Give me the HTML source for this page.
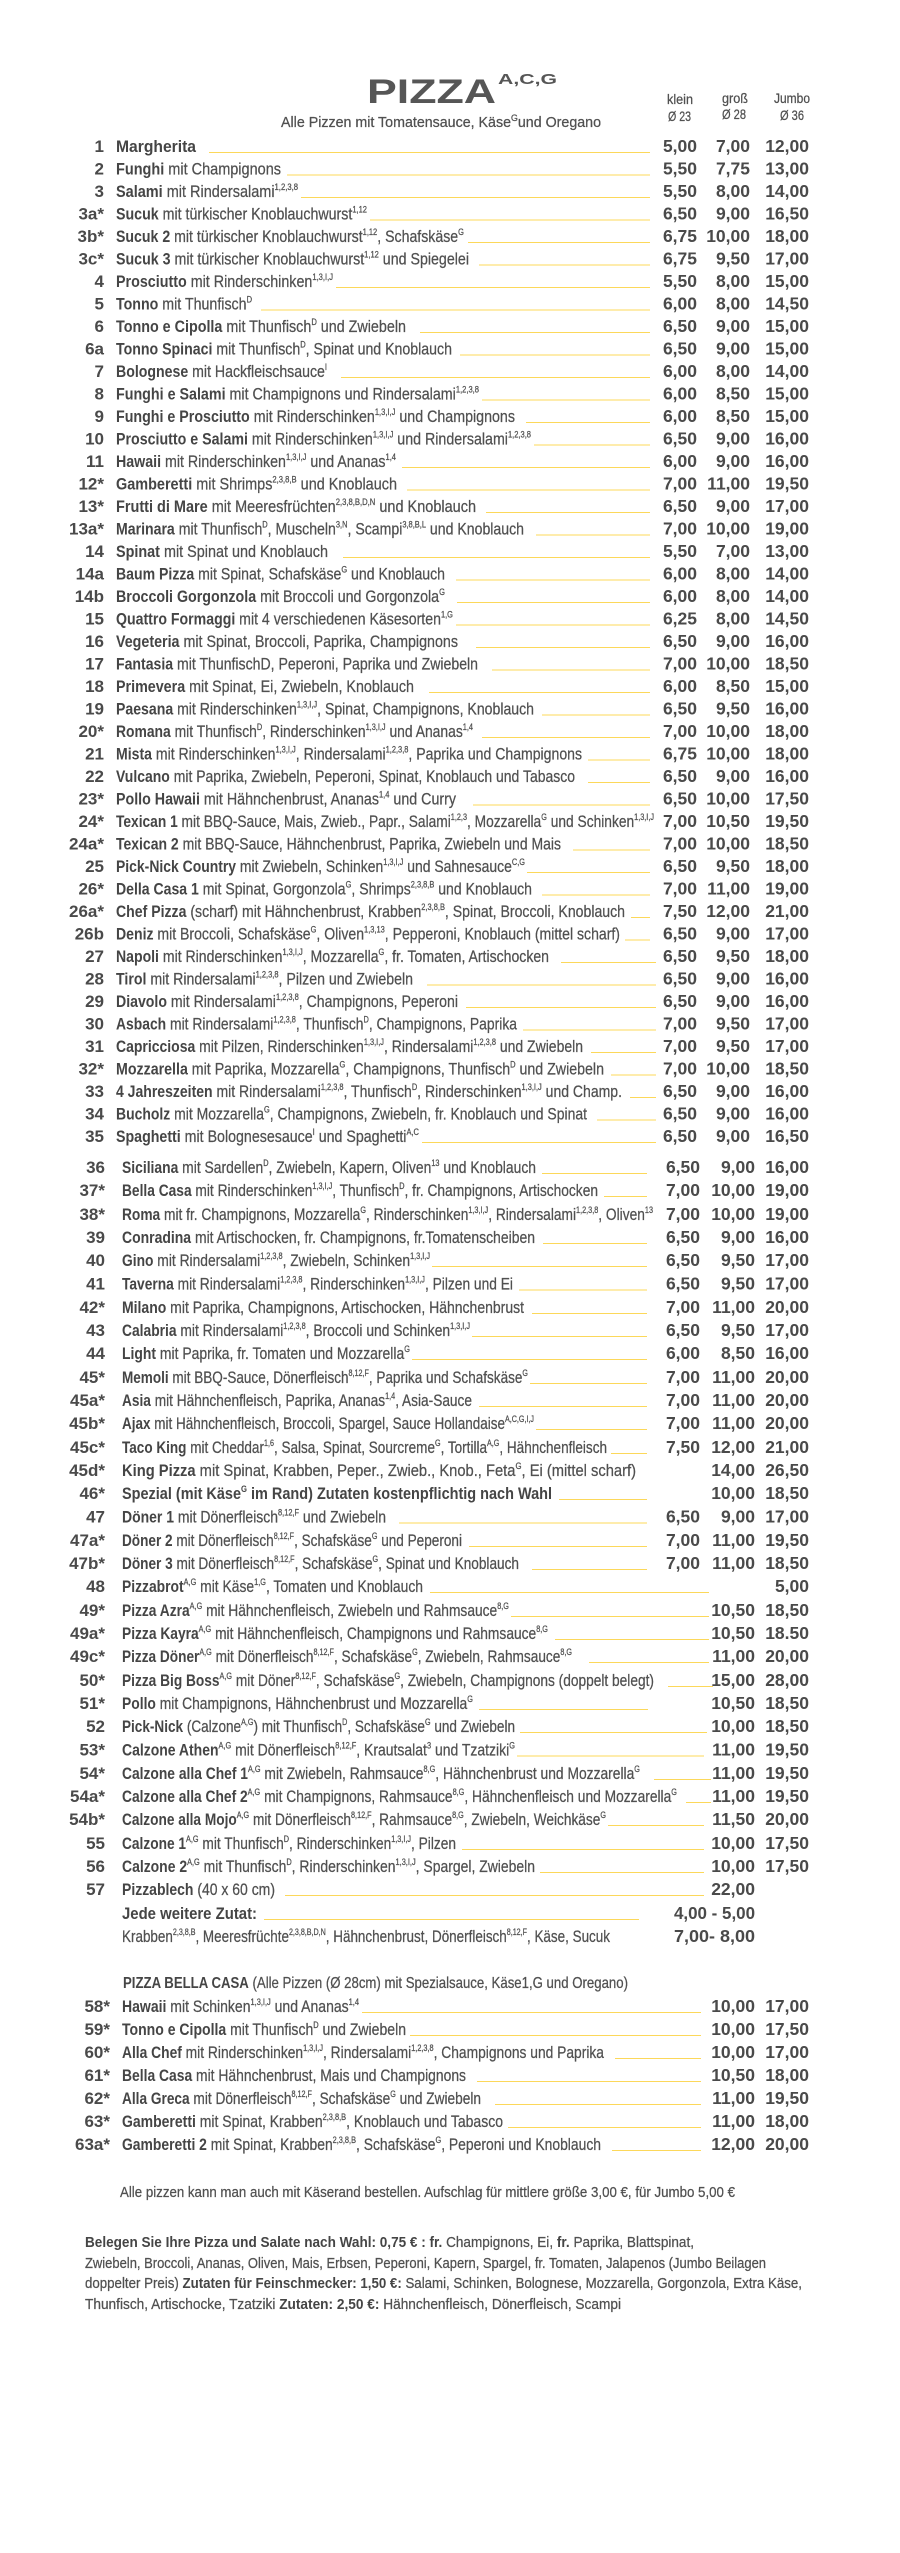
<!DOCTYPE html>
<html><head><meta charset="utf-8"><style>
html,body{margin:0;padding:0;background:#fff}
svg{display:block}
text{font-family:"Liberation Sans",sans-serif;fill:#505050}
.d,.f,.h{stroke:#505050;stroke-width:0.25px}
.b{font-weight:bold;fill:#454545;stroke:none}
.n{font-size:17px;font-weight:bold;text-anchor:end;fill:#4a4a4a}
.d{font-size:17px}
.s{font-size:9px}
.p{font-size:17.5px;font-weight:bold;text-anchor:end;fill:#4a4a4a}
.h{font-size:14px}
.f{font-size:15px}
line{stroke:#fcd85a;stroke-width:1}
</style></head><body>
<svg width="900" height="2553" viewBox="0 0 900 2553" xmlns="http://www.w3.org/2000/svg">
<rect width="900" height="2553" fill="#fff"/>
<!-- Header -->
<text x="367" y="103" style="font-size:34px;font-weight:bold;fill:#565656" textLength="129" lengthAdjust="spacingAndGlyphs">PIZZA</text>
<text x="498" y="84" style="font-size:15px;font-weight:bold;fill:#565656" textLength="59" lengthAdjust="spacingAndGlyphs">A,C,G</text>
<text x="281" y="127" class="d" style="font-size:14.5px" textLength="320" lengthAdjust="spacingAndGlyphs">Alle Pizzen mit Tomatensauce, Käse<tspan class="s" dy="-6">G</tspan><tspan dy="6">und Oregano</tspan></text>
<text x="667" y="104" class="h" textLength="26" lengthAdjust="spacingAndGlyphs">klein</text>
<text x="668" y="121" class="h" textLength="23" lengthAdjust="spacingAndGlyphs">Ø 23</text>
<text x="722" y="103" class="h" textLength="26" lengthAdjust="spacingAndGlyphs">groß</text>
<text x="722" y="119" class="h" textLength="24" lengthAdjust="spacingAndGlyphs">Ø 28</text>
<text x="774" y="103" class="h" textLength="36" lengthAdjust="spacingAndGlyphs">Jumbo</text>
<text x="780" y="120" class="h" textLength="24" lengthAdjust="spacingAndGlyphs">Ø 36</text>

<!-- Section 1 -->
<text x="104" y="152" class="n">1</text><text x="116" y="152" class="d" textLength="80" lengthAdjust="spacingAndGlyphs"><tspan class="b">Margherita</tspan></text><line x1="209" x2="650" y1="152.5" y2="152.5"/><text x="697" y="152" class="p">5,00</text><text x="750" y="152" class="p">7,00</text><text x="809" y="152" class="p">12,00</text>

<text x="104" y="174.5" class="n">2</text><text x="116" y="174.5" class="d" textLength="165" lengthAdjust="spacingAndGlyphs"><tspan class="b">Funghi</tspan> mit Champignons</text><line x1="287" x2="650" y1="175" y2="175"/><text x="697" y="174.5" class="p">5,50</text><text x="750" y="174.5" class="p">7,75</text><text x="809" y="174.5" class="p">13,00</text>

<text x="104" y="197" class="n">3</text><text x="116" y="197" class="d" textLength="182" lengthAdjust="spacingAndGlyphs"><tspan class="b">Salami</tspan> mit Rindersalami<tspan class="s" dy="-7">1,2,3,8</tspan></text><line x1="301" x2="650" y1="197.5" y2="197.5"/><text x="697" y="197" class="p">5,50</text><text x="750" y="197" class="p">8,00</text><text x="809" y="197" class="p">14,00</text>

<text x="104" y="219.5" class="n">3a*</text><text x="116" y="219.5" class="d" textLength="251" lengthAdjust="spacingAndGlyphs"><tspan class="b">Sucuk</tspan> mit türkischer Knoblauchwurst<tspan class="s" dy="-7">1,12</tspan></text><line x1="370" x2="650" y1="220" y2="220"/><text x="697" y="219.5" class="p">6,50</text><text x="750" y="219.5" class="p">9,00</text><text x="809" y="219.5" class="p">16,50</text>

<text x="104" y="242" class="n">3b*</text><text x="116" y="242" class="d" textLength="348" lengthAdjust="spacingAndGlyphs"><tspan class="b">Sucuk 2</tspan>  mit türkischer Knoblauchwurst<tspan class="s" dy="-7">1,12</tspan><tspan dy="7">, Schafskäse</tspan><tspan class="s" dy="-7">G</tspan></text><line x1="468" x2="650" y1="242.5" y2="242.5"/><text x="697" y="242" class="p">6,75</text><text x="750" y="242" class="p">10,00</text><text x="809" y="242" class="p">18,00</text>

<text x="104" y="264.5" class="n">3c*</text><text x="116" y="264.5" class="d" textLength="353" lengthAdjust="spacingAndGlyphs"><tspan class="b">Sucuk 3</tspan> mit türkischer Knoblauchwurst<tspan class="s" dy="-7">1,12</tspan><tspan dy="7"> und Spiegelei</tspan></text><line x1="479" x2="650" y1="265" y2="265"/><text x="697" y="264.5" class="p">6,75</text><text x="750" y="264.5" class="p">9,50</text><text x="809" y="264.5" class="p">17,00</text>

<text x="104" y="287" class="n">4</text><text x="116" y="287" class="d" textLength="217" lengthAdjust="spacingAndGlyphs"><tspan class="b">Prosciutto</tspan> mit Rinderschinken<tspan class="s" dy="-7">1,3,I,J</tspan></text><line x1="336" x2="650" y1="287.5" y2="287.5"/><text x="697" y="287" class="p">5,50</text><text x="750" y="287" class="p">8,00</text><text x="809" y="287" class="p">15,00</text>

<text x="104" y="309.5" class="n">5</text><text x="116" y="309.5" class="d" textLength="136" lengthAdjust="spacingAndGlyphs"><tspan class="b">Tonno</tspan> mit Thunfisch<tspan class="s" dy="-7">D</tspan></text><line x1="261" x2="650" y1="310" y2="310"/><text x="697" y="309.5" class="p">6,00</text><text x="750" y="309.5" class="p">8,00</text><text x="809" y="309.5" class="p">14,50</text>

<text x="104" y="332" class="n">6</text><text x="116" y="332" class="d" textLength="290" lengthAdjust="spacingAndGlyphs"><tspan class="b">Tonno e Cipolla</tspan> mit Thunfisch<tspan class="s" dy="-7">D</tspan><tspan dy="7"> und Zwiebeln</tspan></text><line x1="420" x2="650" y1="332.5" y2="332.5"/><text x="697" y="332" class="p">6,50</text><text x="750" y="332" class="p">9,00</text><text x="809" y="332" class="p">15,00</text>

<text x="104" y="354.5" class="n">6a</text><text x="116" y="354.5" class="d" textLength="336" lengthAdjust="spacingAndGlyphs"><tspan class="b">Tonno Spinaci</tspan> mit Thunfisch<tspan class="s" dy="-7">D</tspan><tspan dy="7">, Spinat und Knoblauch</tspan></text><line x1="460" x2="650" y1="355" y2="355"/><text x="697" y="354.5" class="p">6,50</text><text x="750" y="354.5" class="p">9,00</text><text x="809" y="354.5" class="p">15,00</text>

<text x="104" y="377" class="n">7</text><text x="116" y="377" class="d" textLength="211" lengthAdjust="spacingAndGlyphs"><tspan class="b">Bolognese</tspan> mit Hackfleischsauce<tspan class="s" dy="-7">I</tspan></text><line x1="341" x2="650" y1="377.5" y2="377.5"/><text x="697" y="377" class="p">6,00</text><text x="750" y="377" class="p">8,00</text><text x="809" y="377" class="p">14,00</text>

<text x="104" y="399.5" class="n">8</text><text x="116" y="399.5" class="d" textLength="363" lengthAdjust="spacingAndGlyphs"><tspan class="b">Funghi e Salami</tspan> mit Champignons und Rindersalami<tspan class="s" dy="-7">1,2,3,8</tspan></text><line x1="482" x2="650" y1="400" y2="400"/><text x="697" y="399.5" class="p">6,00</text><text x="750" y="399.5" class="p">8,50</text><text x="809" y="399.5" class="p">15,00</text>

<text x="104" y="422" class="n">9</text><text x="116" y="422" class="d" textLength="399" lengthAdjust="spacingAndGlyphs"><tspan class="b">Funghi e Prosciutto</tspan> mit Rinderschinken<tspan class="s" dy="-7">1,3,I,J</tspan><tspan dy="7"> und Champignons</tspan></text><line x1="526" x2="650" y1="422.5" y2="422.5"/><text x="697" y="422" class="p">6,00</text><text x="750" y="422" class="p">8,50</text><text x="809" y="422" class="p">15,00</text>

<text x="104" y="444.5" class="n">10</text><text x="116" y="444.5" class="d" textLength="415" lengthAdjust="spacingAndGlyphs"><tspan class="b">Prosciutto e Salami</tspan> mit Rinderschinken<tspan class="s" dy="-7">1,3,I,J</tspan><tspan dy="7"> und Rindersalami</tspan><tspan class="s" dy="-7">1,2,3,8</tspan></text><line x1="534" x2="650" y1="445" y2="445"/><text x="697" y="444.5" class="p">6,50</text><text x="750" y="444.5" class="p">9,00</text><text x="809" y="444.5" class="p">16,00</text>

<text x="104" y="467" class="n">11</text><text x="116" y="467" class="d" textLength="280" lengthAdjust="spacingAndGlyphs"><tspan class="b">Hawaii</tspan> mit Rinderschinken<tspan class="s" dy="-7">1,3,I,J</tspan><tspan dy="7"> und Ananas</tspan><tspan class="s" dy="-7">1,4</tspan></text><line x1="402" x2="650" y1="467.5" y2="467.5"/><text x="697" y="467" class="p">6,00</text><text x="750" y="467" class="p">9,00</text><text x="809" y="467" class="p">16,00</text>

<text x="104" y="489.5" class="n">12*</text><text x="116" y="489.5" class="d" textLength="281" lengthAdjust="spacingAndGlyphs"><tspan class="b">Gamberetti</tspan> mit Shrimps<tspan class="s" dy="-7">2,3,8,B</tspan><tspan dy="7"> und Knoblauch</tspan></text><line x1="407" x2="650" y1="490" y2="490"/><text x="697" y="489.5" class="p">7,00</text><text x="750" y="489.5" class="p">11,00</text><text x="809" y="489.5" class="p">19,50</text>

<text x="104" y="512" class="n">13*</text><text x="116" y="512" class="d" textLength="360" lengthAdjust="spacingAndGlyphs"><tspan class="b">Frutti di Mare</tspan> mit Meeresfrüchten<tspan class="s" dy="-7">2,3,8,B,D,N</tspan><tspan dy="7"> und Knoblauch</tspan></text><line x1="486" x2="650" y1="512.5" y2="512.5"/><text x="697" y="512" class="p">6,50</text><text x="750" y="512" class="p">9,00</text><text x="809" y="512" class="p">17,00</text>

<text x="104" y="534.5" class="n">13a*</text><text x="116" y="534.5" class="d" textLength="408" lengthAdjust="spacingAndGlyphs"><tspan class="b">Marinara</tspan> mit Thunfisch<tspan class="s" dy="-7">D</tspan><tspan dy="7">, Muscheln</tspan><tspan class="s" dy="-7">3,N</tspan><tspan dy="7">, Scampi</tspan><tspan class="s" dy="-7">3,8,B,L</tspan><tspan dy="7"> und Knoblauch</tspan></text><line x1="536" x2="650" y1="535" y2="535"/><text x="697" y="534.5" class="p">7,00</text><text x="750" y="534.5" class="p">10,00</text><text x="809" y="534.5" class="p">19,00</text>

<text x="104" y="557" class="n">14</text><text x="116" y="557" class="d" textLength="212" lengthAdjust="spacingAndGlyphs"><tspan class="b">Spinat</tspan> mit Spinat und Knoblauch</text><line x1="343" x2="650" y1="557.5" y2="557.5"/><text x="697" y="557" class="p">5,50</text><text x="750" y="557" class="p">7,00</text><text x="809" y="557" class="p">13,00</text>

<text x="104" y="579.5" class="n">14a</text><text x="116" y="579.5" class="d" textLength="329" lengthAdjust="spacingAndGlyphs"><tspan class="b">Baum Pizza</tspan> mit Spinat, Schafskäse<tspan class="s" dy="-7">G</tspan><tspan dy="7"> und Knoblauch</tspan></text><line x1="456" x2="650" y1="580" y2="580"/><text x="697" y="579.5" class="p">6,00</text><text x="750" y="579.5" class="p">8,00</text><text x="809" y="579.5" class="p">14,00</text>

<text x="104" y="602" class="n">14b</text><text x="116" y="602" class="d" textLength="329" lengthAdjust="spacingAndGlyphs"><tspan class="b">Broccoli Gorgonzola</tspan> mit Broccoli und Gorgonzola<tspan class="s" dy="-7">G</tspan></text><line x1="457" x2="650" y1="602.5" y2="602.5"/><text x="697" y="602" class="p">6,00</text><text x="750" y="602" class="p">8,00</text><text x="809" y="602" class="p">14,00</text>

<text x="104" y="624.5" class="n">15</text><text x="116" y="624.5" class="d" textLength="337" lengthAdjust="spacingAndGlyphs"><tspan class="b">Quattro Formaggi</tspan> mit 4 verschiedenen Käsesorten<tspan class="s" dy="-7">1,G</tspan></text><line x1="456" x2="650" y1="625" y2="625"/><text x="697" y="624.5" class="p">6,25</text><text x="750" y="624.5" class="p">8,00</text><text x="809" y="624.5" class="p">14,50</text>

<text x="104" y="647" class="n">16</text><text x="116" y="647" class="d" textLength="342" lengthAdjust="spacingAndGlyphs"><tspan class="b">Vegeteria</tspan> mit Spinat, Broccoli, Paprika, Champignons</text><line x1="476" x2="650" y1="647.5" y2="647.5"/><text x="697" y="647" class="p">6,50</text><text x="750" y="647" class="p">9,00</text><text x="809" y="647" class="p">16,00</text>

<text x="104" y="669.5" class="n">17</text><text x="116" y="669.5" class="d" textLength="362" lengthAdjust="spacingAndGlyphs"><tspan class="b">Fantasia</tspan> mit ThunfischD, Peperoni, Paprika und Zwiebeln</text><line x1="492" x2="650" y1="670" y2="670"/><text x="697" y="669.5" class="p">7,00</text><text x="750" y="669.5" class="p">10,00</text><text x="809" y="669.5" class="p">18,50</text>

<text x="104" y="692" class="n">18</text><text x="116" y="692" class="d" textLength="298" lengthAdjust="spacingAndGlyphs"><tspan class="b">Primevera</tspan> mit Spinat, Ei, Zwiebeln, Knoblauch</text><line x1="429" x2="650" y1="692.5" y2="692.5"/><text x="697" y="692" class="p">6,00</text><text x="750" y="692" class="p">8,50</text><text x="809" y="692" class="p">15,00</text>

<text x="104" y="714.5" class="n">19</text><text x="116" y="714.5" class="d" textLength="418" lengthAdjust="spacingAndGlyphs"><tspan class="b">Paesana</tspan> mit Rinderschinken<tspan class="s" dy="-7">1,3,I,J</tspan><tspan dy="7">, Spinat, Champignons, Knoblauch</tspan></text><line x1="542" x2="650" y1="715" y2="715"/><text x="697" y="714.5" class="p">6,50</text><text x="750" y="714.5" class="p">9,50</text><text x="809" y="714.5" class="p">16,00</text>

<text x="104" y="737" class="n">20*</text><text x="116" y="737" class="d" textLength="357" lengthAdjust="spacingAndGlyphs"><tspan class="b">Romana</tspan> mit Thunfisch<tspan class="s" dy="-7">D</tspan><tspan dy="7">, Rinderschinken</tspan><tspan class="s" dy="-7">1,3,I,J</tspan><tspan dy="7"> und Ananas</tspan><tspan class="s" dy="-7">1,4</tspan></text><line x1="482" x2="650" y1="737.5" y2="737.5"/><text x="697" y="737" class="p">7,00</text><text x="750" y="737" class="p">10,00</text><text x="809" y="737" class="p">18,00</text>

<text x="104" y="759.5" class="n">21</text><text x="116" y="759.5" class="d" textLength="466" lengthAdjust="spacingAndGlyphs"><tspan class="b">Mista</tspan> mit Rinderschinken<tspan class="s" dy="-7">1,3,I,J</tspan><tspan dy="7">, Rindersalami</tspan><tspan class="s" dy="-7">1,2,3,8</tspan><tspan dy="7">, Paprika und Champignons</tspan></text><line x1="588" x2="650" y1="760" y2="760"/><text x="697" y="759.5" class="p">6,75</text><text x="750" y="759.5" class="p">10,00</text><text x="809" y="759.5" class="p">18,00</text>

<text x="104" y="782" class="n">22</text><text x="116" y="782" class="d" textLength="459" lengthAdjust="spacingAndGlyphs"><tspan class="b">Vulcano</tspan> mit Paprika, Zwiebeln, Peperoni, Spinat, Knoblauch und Tabasco</text><line x1="588" x2="650" y1="782.5" y2="782.5"/><text x="697" y="782" class="p">6,50</text><text x="750" y="782" class="p">9,00</text><text x="809" y="782" class="p">16,00</text>

<text x="104" y="804.5" class="n">23*</text><text x="116" y="804.5" class="d" textLength="340" lengthAdjust="spacingAndGlyphs"><tspan class="b">Pollo Hawaii</tspan> mit Hähnchenbrust, Ananas<tspan class="s" dy="-7">1,4</tspan><tspan dy="7"> und Curry</tspan></text><line x1="473" x2="650" y1="805" y2="805"/><text x="697" y="804.5" class="p">6,50</text><text x="750" y="804.5" class="p">10,00</text><text x="809" y="804.5" class="p">17,50</text>

<text x="104" y="827" class="n">24*</text><text x="116" y="827" class="d" textLength="538" lengthAdjust="spacingAndGlyphs"><tspan class="b">Texican 1</tspan> mit BBQ-Sauce, Mais, Zwieb., Papr., Salami<tspan class="s" dy="-7">1,2,3</tspan><tspan dy="7">, Mozzarella</tspan><tspan class="s" dy="-7">G</tspan><tspan dy="7"> und Schinken</tspan><tspan class="s" dy="-7">1,3,I,J</tspan></text><text x="697" y="827" class="p">7,00</text><text x="750" y="827" class="p">10,50</text><text x="809" y="827" class="p">19,50</text>

<text x="104" y="849.5" class="n">24a*</text><text x="116" y="849.5" class="d" textLength="445" lengthAdjust="spacingAndGlyphs"><tspan class="b">Texican 2</tspan> mit BBQ-Sauce, Hähnchenbrust, Paprika, Zwiebeln und Mais</text><line x1="573" x2="650" y1="850" y2="850"/><text x="697" y="849.5" class="p">7,00</text><text x="750" y="849.5" class="p">10,00</text><text x="809" y="849.5" class="p">18,50</text>

<text x="104" y="872" class="n">25</text><text x="116" y="872" class="d" textLength="409" lengthAdjust="spacingAndGlyphs"><tspan class="b">Pick-Nick Country</tspan> mit Zwiebeln, Schinken<tspan class="s" dy="-7">1,3,I,J</tspan><tspan dy="7"> und  Sahnesauce</tspan><tspan class="s" dy="-7">C,G</tspan></text><line x1="527" x2="650" y1="872.5" y2="872.5"/><text x="697" y="872" class="p">6,50</text><text x="750" y="872" class="p">9,50</text><text x="809" y="872" class="p">18,00</text>

<text x="104" y="894.5" class="n">26*</text><text x="116" y="894.5" class="d" textLength="416" lengthAdjust="spacingAndGlyphs"><tspan class="b">Della Casa 1</tspan> mit Spinat, Gorgonzola<tspan class="s" dy="-7">G</tspan><tspan dy="7">, Shrimps</tspan><tspan class="s" dy="-7">2,3,8,B</tspan><tspan dy="7">  und Knoblauch</tspan></text><line x1="542" x2="650" y1="895" y2="895"/><text x="697" y="894.5" class="p">7,00</text><text x="750" y="894.5" class="p">11,00</text><text x="809" y="894.5" class="p">19,00</text>

<text x="104" y="917" class="n">26a*</text><text x="116" y="917" class="d" textLength="509" lengthAdjust="spacingAndGlyphs"><tspan class="b">Chef Pizza</tspan> (scharf) mit Hähnchenbrust, Krabben<tspan class="s" dy="-7">2,3,8,B</tspan><tspan dy="7">, Spinat, Broccoli, Knoblauch</tspan></text><line x1="631" x2="650" y1="917.5" y2="917.5"/><text x="697" y="917" class="p">7,50</text><text x="750" y="917" class="p">12,00</text><text x="809" y="917" class="p">21,00</text>

<text x="104" y="939.5" class="n">26b</text><text x="116" y="939.5" class="d" textLength="504" lengthAdjust="spacingAndGlyphs"><tspan class="b">Deniz</tspan> mit Broccoli, Schafskäse<tspan class="s" dy="-7">G</tspan><tspan dy="7">, Oliven</tspan><tspan class="s" dy="-7">1,3,13</tspan><tspan dy="7">, Pepperoni, Knoblauch (mittel scharf)</tspan></text><line x1="625" x2="650" y1="940" y2="940"/><text x="697" y="939.5" class="p">6,50</text><text x="750" y="939.5" class="p">9,00</text><text x="809" y="939.5" class="p">17,00</text>

<text x="104" y="962" class="n">27</text><text x="116" y="962" class="d" textLength="433" lengthAdjust="spacingAndGlyphs"><tspan class="b">Napoli</tspan> mit Rinderschinken<tspan class="s" dy="-7">1,3,I,J</tspan><tspan dy="7">, Mozzarella</tspan><tspan class="s" dy="-7">G</tspan><tspan dy="7">, fr. Tomaten, Artischocken</tspan></text><line x1="561" x2="656" y1="962.5" y2="962.5"/><text x="697" y="962" class="p">6,50</text><text x="750" y="962" class="p">9,50</text><text x="809" y="962" class="p">18,00</text>

<text x="104" y="984.5" class="n">28</text><text x="116" y="984.5" class="d" textLength="297" lengthAdjust="spacingAndGlyphs"><tspan class="b">Tirol</tspan> mit Rindersalami<tspan class="s" dy="-7">1,2,3,8</tspan><tspan dy="7">, Pilzen und Zwiebeln</tspan></text><line x1="427" x2="656" y1="985" y2="985"/><text x="697" y="984.5" class="p">6,50</text><text x="750" y="984.5" class="p">9,00</text><text x="809" y="984.5" class="p">16,00</text>

<text x="104" y="1007" class="n">29</text><text x="116" y="1007" class="d" textLength="342" lengthAdjust="spacingAndGlyphs"><tspan class="b">Diavolo</tspan> mit Rindersalami<tspan class="s" dy="-7">1,2,3,8</tspan><tspan dy="7">, Champignons, Peperoni</tspan></text><line x1="466" x2="656" y1="1007.5" y2="1007.5"/><text x="697" y="1007" class="p">6,50</text><text x="750" y="1007" class="p">9,00</text><text x="809" y="1007" class="p">16,00</text>

<text x="104" y="1029.5" class="n">30</text><text x="116" y="1029.5" class="d" textLength="401" lengthAdjust="spacingAndGlyphs"><tspan class="b">Asbach</tspan> mit Rindersalami<tspan class="s" dy="-7">1,2,3,8</tspan><tspan dy="7">, Thunfisch</tspan><tspan class="s" dy="-7">D</tspan><tspan dy="7">, Champignons, Paprika</tspan></text><line x1="523" x2="656" y1="1030" y2="1030"/><text x="697" y="1029.5" class="p">7,00</text><text x="750" y="1029.5" class="p">9,50</text><text x="809" y="1029.5" class="p">17,00</text>

<text x="104" y="1052" class="n">31</text><text x="116" y="1052" class="d" textLength="467" lengthAdjust="spacingAndGlyphs"><tspan class="b">Capricciosa</tspan> mit Pilzen, Rinderschinken<tspan class="s" dy="-7">1,3,I,J</tspan><tspan dy="7">, Rindersalami</tspan><tspan class="s" dy="-7">1,2,3,8</tspan><tspan dy="7"> und Zwiebeln</tspan></text><line x1="591" x2="656" y1="1052.5" y2="1052.5"/><text x="697" y="1052" class="p">7,00</text><text x="750" y="1052" class="p">9,50</text><text x="809" y="1052" class="p">17,00</text>

<text x="104" y="1074.5" class="n">32*</text><text x="116" y="1074.5" class="d" textLength="488" lengthAdjust="spacingAndGlyphs"><tspan class="b">Mozzarella</tspan> mit Paprika, Mozzarella<tspan class="s" dy="-7">G</tspan><tspan dy="7">, Champignons, Thunfisch</tspan><tspan class="s" dy="-7">D</tspan><tspan dy="7"> und Zwiebeln</tspan></text><line x1="611" x2="656" y1="1075" y2="1075"/><text x="697" y="1074.5" class="p">7,00</text><text x="750" y="1074.5" class="p">10,00</text><text x="809" y="1074.5" class="p">18,50</text>

<text x="104" y="1097" class="n">33</text><text x="116" y="1097" class="d" textLength="506" lengthAdjust="spacingAndGlyphs"><tspan class="b">4 Jahreszeiten</tspan> mit Rindersalami<tspan class="s" dy="-7">1,2,3,8</tspan><tspan dy="7">, Thunfisch</tspan><tspan class="s" dy="-7">D</tspan><tspan dy="7">, Rinderschinken</tspan><tspan class="s" dy="-7">1,3,I,J</tspan><tspan dy="7"> und Champ.</tspan></text><line x1="630" x2="656" y1="1097.5" y2="1097.5"/><text x="697" y="1097" class="p">6,50</text><text x="750" y="1097" class="p">9,00</text><text x="809" y="1097" class="p">16,00</text>

<text x="104" y="1119.5" class="n">34</text><text x="116" y="1119.5" class="d" textLength="471" lengthAdjust="spacingAndGlyphs"><tspan class="b">Bucholz</tspan> mit Mozzarella<tspan class="s" dy="-7">G</tspan><tspan dy="7">, Champignons, Zwiebeln, fr. Knoblauch und Spinat</tspan></text><line x1="597" x2="656" y1="1120" y2="1120"/><text x="697" y="1119.5" class="p">6,50</text><text x="750" y="1119.5" class="p">9,00</text><text x="809" y="1119.5" class="p">16,00</text>

<text x="104" y="1142" class="n">35</text><text x="116" y="1142" class="d" textLength="303" lengthAdjust="spacingAndGlyphs"><tspan class="b">Spaghetti</tspan> mit Bolognesesauce<tspan class="s" dy="-7">I</tspan><tspan dy="7"> und Spaghetti</tspan><tspan class="s" dy="-7">A,C</tspan></text><line x1="422" x2="656" y1="1142.5" y2="1142.5"/><text x="697" y="1142" class="p">6,50</text><text x="750" y="1142" class="p">9,00</text><text x="809" y="1142" class="p">16,50</text>

<!-- Section 2 -->
<text x="105" y="1173" class="n">36</text><text x="122" y="1173" class="d" textLength="414" lengthAdjust="spacingAndGlyphs"><tspan class="b">Siciliana</tspan> mit Sardellen<tspan class="s" dy="-7">D</tspan><tspan dy="7">, Zwiebeln, Kapern, Oliven</tspan><tspan class="s" dy="-7">13</tspan><tspan dy="7"> und Knoblauch</tspan></text><line x1="542" x2="647" y1="1173.5" y2="1173.5"/><text x="700" y="1173" class="p">6,50</text><text x="755" y="1173" class="p">9,00</text><text x="809" y="1173" class="p">16,00</text>

<text x="105" y="1196" class="n">37*</text><text x="122" y="1196" class="d" textLength="476" lengthAdjust="spacingAndGlyphs"><tspan class="b">Bella Casa</tspan> mit Rinderschinken<tspan class="s" dy="-7">1,3,I,J</tspan><tspan dy="7">, Thunfisch</tspan><tspan class="s" dy="-7">D</tspan><tspan dy="7">, fr. Champignons, Artischocken</tspan></text><line x1="604" x2="647" y1="1196.5" y2="1196.5"/><text x="700" y="1196" class="p">7,00</text><text x="755" y="1196" class="p">10,00</text><text x="809" y="1196" class="p">19,00</text>

<text x="105" y="1220" class="n">38*</text><text x="122" y="1220" class="d" textLength="531" lengthAdjust="spacingAndGlyphs"><tspan class="b">Roma</tspan> mit fr. Champignons, Mozzarella<tspan class="s" dy="-7">G</tspan><tspan dy="7">, Rinderschinken</tspan><tspan class="s" dy="-7">1,3,I,J</tspan><tspan dy="7">, Rindersalami</tspan><tspan class="s" dy="-7">1,2,3,8</tspan><tspan dy="7">, Oliven</tspan><tspan class="s" dy="-7">13</tspan></text><text x="700" y="1220" class="p">7,00</text><text x="755" y="1220" class="p">10,00</text><text x="809" y="1220" class="p">19,00</text>

<text x="105" y="1243" class="n">39</text><text x="122" y="1243" class="d" textLength="413" lengthAdjust="spacingAndGlyphs"><tspan class="b">Conradina</tspan> mit Artischocken, fr. Champignons, fr.Tomatenscheiben</text><line x1="543" x2="647" y1="1243.5" y2="1243.5"/><text x="700" y="1243" class="p">6,50</text><text x="755" y="1243" class="p">9,00</text><text x="809" y="1243" class="p">16,00</text>

<text x="105" y="1266" class="n">40</text><text x="122" y="1266" class="d" textLength="308" lengthAdjust="spacingAndGlyphs"><tspan class="b">Gino</tspan> mit Rindersalami<tspan class="s" dy="-7">1,2,3,8</tspan><tspan dy="7">, Zwiebeln, Schinken</tspan><tspan class="s" dy="-7">1,3,I,J</tspan></text><line x1="432" x2="647" y1="1266.5" y2="1266.5"/><text x="700" y="1266" class="p">6,50</text><text x="755" y="1266" class="p">9,50</text><text x="809" y="1266" class="p">17,00</text>

<text x="105" y="1289.5" class="n">41</text><text x="122" y="1289.5" class="d" textLength="391" lengthAdjust="spacingAndGlyphs"><tspan class="b">Taverna</tspan> mit Rindersalami<tspan class="s" dy="-7">1,2,3,8</tspan><tspan dy="7">, Rinderschinken</tspan><tspan class="s" dy="-7">1,3,I,J</tspan><tspan dy="7">, Pilzen und Ei</tspan></text><line x1="519" x2="647" y1="1290" y2="1290"/><text x="700" y="1289.5" class="p">6,50</text><text x="755" y="1289.5" class="p">9,50</text><text x="809" y="1289.5" class="p">17,00</text>

<text x="105" y="1313" class="n">42*</text><text x="122" y="1313" class="d" textLength="402" lengthAdjust="spacingAndGlyphs"><tspan class="b">Milano</tspan> mit Paprika, Champignons, Artischocken, Hähnchenbrust</text><line x1="532" x2="647" y1="1313.5" y2="1313.5"/><text x="700" y="1313" class="p">7,00</text><text x="755" y="1313" class="p">11,00</text><text x="809" y="1313" class="p">20,00</text>

<text x="105" y="1336" class="n">43</text><text x="122" y="1336" class="d" textLength="348" lengthAdjust="spacingAndGlyphs"><tspan class="b">Calabria</tspan> mit Rindersalami<tspan class="s" dy="-7">1,2,3,8</tspan><tspan dy="7">, Broccoli und Schinken</tspan><tspan class="s" dy="-7">1,3,I,J</tspan></text><line x1="472" x2="647" y1="1336.5" y2="1336.5"/><text x="700" y="1336" class="p">6,50</text><text x="755" y="1336" class="p">9,50</text><text x="809" y="1336" class="p">17,00</text>

<text x="105" y="1359" class="n">44</text><text x="122" y="1359" class="d" textLength="288" lengthAdjust="spacingAndGlyphs"><tspan class="b">Light</tspan> mit Paprika, fr. Tomaten und Mozzarella<tspan class="s" dy="-7">G</tspan></text><line x1="412" x2="647" y1="1359.5" y2="1359.5"/><text x="700" y="1359" class="p">6,00</text><text x="755" y="1359" class="p">8,50</text><text x="809" y="1359" class="p">16,00</text>

<text x="105" y="1383" class="n">45*</text><text x="122" y="1383" class="d" textLength="406" lengthAdjust="spacingAndGlyphs"><tspan class="b">Memoli</tspan> mit BBQ-Sauce, Dönerfleisch<tspan class="s" dy="-7">8,12,F</tspan><tspan dy="7">, Paprika und Schafskäse</tspan><tspan class="s" dy="-7">G</tspan></text><line x1="530" x2="647" y1="1383.5" y2="1383.5"/><text x="700" y="1383" class="p">7,00</text><text x="755" y="1383" class="p">11,00</text><text x="809" y="1383" class="p">20,00</text>

<text x="105" y="1406" class="n">45a*</text><text x="122" y="1406" class="d" textLength="350" lengthAdjust="spacingAndGlyphs"><tspan class="b">Asia</tspan> mit Hähnchenfleisch, Paprika, Ananas<tspan class="s" dy="-7">1,4</tspan><tspan dy="7">, Asia-Sauce</tspan></text><line x1="479" x2="647" y1="1406.5" y2="1406.5"/><text x="700" y="1406" class="p">7,00</text><text x="755" y="1406" class="p">11,00</text><text x="809" y="1406" class="p">20,00</text>

<text x="105" y="1429" class="n">45b*</text><text x="122" y="1429" class="d" textLength="412" lengthAdjust="spacingAndGlyphs"><tspan class="b">Ajax</tspan> mit Hähnchenfleisch, Broccoli, Spargel, Sauce Hollandaise<tspan class="s" dy="-7">A,C,G,I,J</tspan></text><line x1="536" x2="647" y1="1429.5" y2="1429.5"/><text x="700" y="1429" class="p">7,00</text><text x="755" y="1429" class="p">11,00</text><text x="809" y="1429" class="p">20,00</text>

<text x="105" y="1453" class="n">45c*</text><text x="122" y="1453" class="d" textLength="485" lengthAdjust="spacingAndGlyphs"><tspan class="b">Taco King</tspan> mit Cheddar<tspan class="s" dy="-7">1,6</tspan><tspan dy="7">, Salsa, Spinat, Sourcreme</tspan><tspan class="s" dy="-7">G</tspan><tspan dy="7">, Tortilla</tspan><tspan class="s" dy="-7">A,G</tspan><tspan dy="7">, Hähnchenfleisch</tspan></text><line x1="611" x2="647" y1="1453.5" y2="1453.5"/><text x="700" y="1453" class="p">7,50</text><text x="755" y="1453" class="p">12,00</text><text x="809" y="1453" class="p">21,00</text>

<text x="105" y="1476" class="n">45d*</text><text x="122" y="1476" class="d" textLength="514" lengthAdjust="spacingAndGlyphs"><tspan class="b">King Pizza</tspan> mit Spinat, Krabben, Peper., Zwieb., Knob., Feta<tspan class="s" dy="-7">G</tspan><tspan dy="7">, Ei (mittel scharf)</tspan></text><text x="755" y="1476" class="p">14,00</text><text x="809" y="1476" class="p">26,50</text>

<text x="105" y="1499" class="n">46*</text><text x="122" y="1499" class="d b" textLength="430" lengthAdjust="spacingAndGlyphs">Spezial (mit Käse<tspan class="s" dy="-7">G</tspan><tspan dy="7"> im Rand) Zutaten kostenpflichtig nach Wahl</tspan></text><line x1="559" x2="647" y1="1499.5" y2="1499.5"/><text x="755" y="1499" class="p">10,00</text><text x="809" y="1499" class="p">18,50</text>

<text x="105" y="1522.5" class="n">47</text><text x="122" y="1522.5" class="d" textLength="264" lengthAdjust="spacingAndGlyphs"><tspan class="b">Döner 1</tspan> mit Dönerfleisch<tspan class="s" dy="-7">8,12,F</tspan><tspan dy="7"> und Zwiebeln</tspan></text><line x1="399" x2="647" y1="1523" y2="1523"/><text x="700" y="1522.5" class="p">6,50</text><text x="755" y="1522.5" class="p">9,00</text><text x="809" y="1522.5" class="p">17,00</text>

<text x="105" y="1546" class="n">47a*</text><text x="122" y="1546" class="d" textLength="340" lengthAdjust="spacingAndGlyphs"><tspan class="b">Döner 2</tspan> mit Dönerfleisch<tspan class="s" dy="-7">8,12,F</tspan><tspan dy="7">, Schafskäse</tspan><tspan class="s" dy="-7">G</tspan><tspan dy="7"> und Peperoni</tspan></text><line x1="469" x2="647" y1="1546.5" y2="1546.5"/><text x="700" y="1546" class="p">7,00</text><text x="755" y="1546" class="p">11,00</text><text x="809" y="1546" class="p">19,50</text>

<text x="105" y="1569" class="n">47b*</text><text x="122" y="1569" class="d" textLength="397" lengthAdjust="spacingAndGlyphs"><tspan class="b">Döner 3</tspan> mit Dönerfleisch<tspan class="s" dy="-7">8,12,F</tspan><tspan dy="7">, Schafskäse</tspan><tspan class="s" dy="-7">G</tspan><tspan dy="7">, Spinat und Knoblauch</tspan></text><line x1="532" x2="647" y1="1569.5" y2="1569.5"/><text x="700" y="1569" class="p">7,00</text><text x="755" y="1569" class="p">11,00</text><text x="809" y="1569" class="p">18,50</text>

<text x="105" y="1592" class="n">48</text><text x="122" y="1592" class="d" textLength="301" lengthAdjust="spacingAndGlyphs"><tspan class="b">Pizzabrot</tspan><tspan class="s" dy="-7">A,G</tspan><tspan dy="7"> mit Käse</tspan><tspan class="s" dy="-7">1,G</tspan><tspan dy="7">, Tomaten und Knoblauch</tspan></text><line x1="430" x2="709" y1="1592.5" y2="1592.5"/><text x="809" y="1592" class="p">5,00</text>

<text x="105" y="1616" class="n">49*</text><text x="122" y="1616" class="d" textLength="387" lengthAdjust="spacingAndGlyphs"><tspan class="b">Pizza Azra</tspan><tspan class="s" dy="-7">A,G</tspan><tspan dy="7"> mit Hähnchenfleisch, Zwiebeln und Rahmsauce</tspan><tspan class="s" dy="-7">8,G</tspan></text><line x1="511" x2="709" y1="1616.5" y2="1616.5"/><text x="755" y="1616" class="p">10,50</text><text x="809" y="1616" class="p">18,50</text>

<text x="105" y="1639" class="n">49a*</text><text x="122" y="1639" class="d" textLength="426" lengthAdjust="spacingAndGlyphs"><tspan class="b">Pizza Kayra</tspan><tspan class="s" dy="-7">A,G</tspan><tspan dy="7"> mit Hähnchenfleisch, Champignons und Rahmsauce</tspan><tspan class="s" dy="-7">8,G</tspan></text><line x1="555" x2="709" y1="1639.5" y2="1639.5"/><text x="755" y="1639" class="p">10,50</text><text x="809" y="1639" class="p">18.50</text>

<text x="105" y="1662" class="n">49c*</text><text x="122" y="1662" class="d" textLength="450" lengthAdjust="spacingAndGlyphs"><tspan class="b">Pizza Döner</tspan><tspan class="s" dy="-7">A,G</tspan><tspan dy="7"> mit Dönerfleisch</tspan><tspan class="s" dy="-7">8,12,F</tspan><tspan dy="7">, Schafskäse</tspan><tspan class="s" dy="-7">G</tspan><tspan dy="7">, Zwiebeln, Rahmsauce</tspan><tspan class="s" dy="-7">8,G</tspan></text><line x1="589" x2="709" y1="1662.5" y2="1662.5"/><text x="755" y="1662" class="p">11,00</text><text x="809" y="1662" class="p">20,00</text>

<text x="105" y="1686" class="n">50*</text><text x="122" y="1686" class="d" textLength="532" lengthAdjust="spacingAndGlyphs"><tspan class="b">Pizza Big Boss</tspan><tspan class="s" dy="-7">A,G</tspan><tspan dy="7"> mit Döner</tspan><tspan class="s" dy="-7">8,12,F</tspan><tspan dy="7">, Schafskäse</tspan><tspan class="s" dy="-7">G</tspan><tspan dy="7">, Zwiebeln, Champignons (doppelt belegt)</tspan></text><line x1="668" x2="713" y1="1686.5" y2="1686.5"/><text x="755" y="1686" class="p">15,00</text><text x="809" y="1686" class="p">28,00</text>

<text x="105" y="1709" class="n">51*</text><text x="122" y="1709" class="d" textLength="351" lengthAdjust="spacingAndGlyphs"><tspan class="b">Pollo</tspan> mit Champignons, Hähnchenbrust und Mozzarella<tspan class="s" dy="-7">G</tspan></text><line x1="479" x2="648" y1="1709.5" y2="1709.5"/><text x="755" y="1709" class="p">10,50</text><text x="809" y="1709" class="p">18,50</text>

<text x="105" y="1732" class="n">52</text><text x="122" y="1732" class="d" textLength="393" lengthAdjust="spacingAndGlyphs"><tspan class="b">Pick-Nick</tspan> (Calzone<tspan class="s" dy="-7">A,G</tspan><tspan dy="7">) mit Thunfisch</tspan><tspan class="s" dy="-7">D</tspan><tspan dy="7">, Schafskäse</tspan><tspan class="s" dy="-7">G</tspan><tspan dy="7"> und Zwiebeln</tspan></text><line x1="520" x2="707" y1="1732.5" y2="1732.5"/><text x="755" y="1732" class="p">10,00</text><text x="809" y="1732" class="p">18,50</text>

<text x="105" y="1755.5" class="n">53*</text><text x="122" y="1755.5" class="d" textLength="393" lengthAdjust="spacingAndGlyphs"><tspan class="b">Calzone  Athen</tspan><tspan class="s" dy="-7">A,G</tspan><tspan dy="7"> mit Dönerfleisch</tspan><tspan class="s" dy="-7">8,12,F</tspan><tspan dy="7">, Krautsalat</tspan><tspan class="s" dy="-7">3</tspan><tspan dy="7"> und Tzatziki</tspan><tspan class="s" dy="-7">G</tspan></text><line x1="517" x2="704" y1="1756" y2="1756"/><text x="755" y="1755.5" class="p">11,00</text><text x="809" y="1755.5" class="p">19,50</text>

<text x="105" y="1779" class="n">54*</text><text x="122" y="1779" class="d" textLength="518" lengthAdjust="spacingAndGlyphs"><tspan class="b">Calzone alla Chef 1</tspan><tspan class="s" dy="-7">A,G</tspan><tspan dy="7"> mit Zwiebeln, Rahmsauce</tspan><tspan class="s" dy="-7">8,G</tspan><tspan dy="7">, Hähnchenbrust und Mozzarella</tspan><tspan class="s" dy="-7">G</tspan></text><line x1="654" x2="711" y1="1779.5" y2="1779.5"/><text x="755" y="1779" class="p">11,00</text><text x="809" y="1779" class="p">19,50</text>

<text x="105" y="1802" class="n">54a*</text><text x="122" y="1802" class="d" textLength="555" lengthAdjust="spacingAndGlyphs"><tspan class="b">Calzone alla Chef 2</tspan><tspan class="s" dy="-7">A,G</tspan><tspan dy="7"> mit Champignons, Rahmsauce</tspan><tspan class="s" dy="-7">8,G</tspan><tspan dy="7">, Hähnchenfleisch und Mozzarella</tspan><tspan class="s" dy="-7">G</tspan></text><line x1="686" x2="711" y1="1802.5" y2="1802.5"/><text x="755" y="1802" class="p">11,00</text><text x="809" y="1802" class="p">19,50</text>

<text x="105" y="1825" class="n">54b*</text><text x="122" y="1825" class="d" textLength="484" lengthAdjust="spacingAndGlyphs"><tspan class="b">Calzone alla Mojo</tspan><tspan class="s" dy="-7">A,G</tspan><tspan dy="7"> mit Dönerfleisch</tspan><tspan class="s" dy="-7">8,12,F</tspan><tspan dy="7">, Rahmsauce</tspan><tspan class="s" dy="-7">8,G</tspan><tspan dy="7">, Zwiebeln, Weichkäse</tspan><tspan class="s" dy="-7">G</tspan></text><line x1="608" x2="704" y1="1825.5" y2="1825.5"/><text x="755" y="1825" class="p">11,50</text><text x="809" y="1825" class="p">20,00</text>

<text x="105" y="1849" class="n">55</text><text x="122" y="1849" class="d" textLength="334" lengthAdjust="spacingAndGlyphs"><tspan class="b">Calzone 1</tspan><tspan class="s" dy="-7">A,G</tspan><tspan dy="7"> mit Thunfisch</tspan><tspan class="s" dy="-7">D</tspan><tspan dy="7">, Rinderschinken</tspan><tspan class="s" dy="-7">1,3,I,J</tspan><tspan dy="7">, Pilzen</tspan></text><line x1="462" x2="704" y1="1849.5" y2="1849.5"/><text x="755" y="1849" class="p">10,00</text><text x="809" y="1849" class="p">17,50</text>

<text x="105" y="1872" class="n">56</text><text x="122" y="1872" class="d" textLength="413" lengthAdjust="spacingAndGlyphs"><tspan class="b">Calzone 2</tspan><tspan class="s" dy="-7">A,G</tspan><tspan dy="7">  mit Thunfisch</tspan><tspan class="s" dy="-7">D</tspan><tspan dy="7">, Rinderschinken</tspan><tspan class="s" dy="-7">1,3,I,J</tspan><tspan dy="7">, Spargel,  Zwiebeln</tspan></text><line x1="540" x2="704" y1="1872.5" y2="1872.5"/><text x="755" y="1872" class="p">10,00</text><text x="809" y="1872" class="p">17,50</text>

<text x="105" y="1895" class="n">57</text><text x="122" y="1895" class="d" textLength="153" lengthAdjust="spacingAndGlyphs"><tspan class="b">Pizzablech</tspan> (40 x 60 cm)</text><line x1="285" x2="704" y1="1895.5" y2="1895.5"/><text x="755" y="1895" class="p">22,00</text>

<text x="122" y="1919" class="d b" textLength="135" lengthAdjust="spacingAndGlyphs">Jede weitere Zutat:</text><line x1="264" x2="639" y1="1919.5" y2="1919.5"/><text x="755" y="1919" class="p" textLength="81" lengthAdjust="spacingAndGlyphs">4,00 - 5,00</text>

<text x="122" y="1942" class="d" textLength="488" lengthAdjust="spacingAndGlyphs">Krabben<tspan class="s" dy="-7">2,3,8,B</tspan><tspan dy="7">, Meeresfrüchte</tspan><tspan class="s" dy="-7">2,3,8,B,D,N</tspan><tspan dy="7">, Hähnchenbrust, Dönerfleisch</tspan><tspan class="s" dy="-7">8,12,F</tspan><tspan dy="7">, Käse, Sucuk</tspan></text><text x="755" y="1942" class="p" textLength="81" lengthAdjust="spacingAndGlyphs">7,00- 8,00</text>

<!-- Section 3 -->
<text x="123" y="1988" class="d" style="font-size:16px" textLength="505" lengthAdjust="spacingAndGlyphs"><tspan class="b">PIZZA BELLA CASA</tspan> (Alle Pizzen (Ø 28cm) mit Spezialsauce, Käse1,G und Oregano)</text>

<text x="110" y="2012" class="n">58*</text><text x="122" y="2012" class="d" textLength="237" lengthAdjust="spacingAndGlyphs"><tspan class="b">Hawaii</tspan> mit Schinken<tspan class="s" dy="-7">1,3,I,J</tspan><tspan dy="7"> und Ananas</tspan><tspan class="s" dy="-7">1,4</tspan></text><line x1="362" x2="701" y1="2012.5" y2="2012.5"/><text x="755" y="2012" class="p">10,00</text><text x="809" y="2012" class="p">17,00</text>

<text x="110" y="2035" class="n">59*</text><text x="122" y="2035" class="d" textLength="284" lengthAdjust="spacingAndGlyphs"><tspan class="b">Tonno e Cipolla</tspan> mit Thunfisch<tspan class="s" dy="-7">D</tspan><tspan dy="7"> und Zwiebeln</tspan></text><line x1="410" x2="701" y1="2035.5" y2="2035.5"/><text x="755" y="2035" class="p">10,00</text><text x="809" y="2035" class="p">17,50</text>

<text x="110" y="2058" class="n">60*</text><text x="122" y="2058" class="d" textLength="482" lengthAdjust="spacingAndGlyphs"><tspan class="b">Alla Chef</tspan> mit Rinderschinken<tspan class="s" dy="-7">1,3,I,J</tspan><tspan dy="7">, Rindersalami</tspan><tspan class="s" dy="-7">1,2,3,8</tspan><tspan dy="7">, Champignons und Paprika</tspan></text><line x1="615" x2="701" y1="2058.5" y2="2058.5"/><text x="755" y="2058" class="p">10,00</text><text x="809" y="2058" class="p">17,00</text>

<text x="110" y="2081" class="n">61*</text><text x="122" y="2081" class="d" textLength="344" lengthAdjust="spacingAndGlyphs"><tspan class="b">Bella Casa</tspan> mit Hähnchenbrust, Mais und Champignons</text><line x1="477" x2="701" y1="2081.5" y2="2081.5"/><text x="755" y="2081" class="p">10,50</text><text x="809" y="2081" class="p">18,00</text>

<text x="110" y="2104" class="n">62*</text><text x="122" y="2104" class="d" textLength="359" lengthAdjust="spacingAndGlyphs"><tspan class="b">Alla Greca</tspan> mit Dönerfleisch<tspan class="s" dy="-7">8,12,F</tspan><tspan dy="7">, Schafskäse</tspan><tspan class="s" dy="-7">G</tspan><tspan dy="7"> und Zwiebeln</tspan></text><line x1="495" x2="701" y1="2104.5" y2="2104.5"/><text x="755" y="2104" class="p">11,00</text><text x="809" y="2104" class="p">19,50</text>

<text x="110" y="2127" class="n">63*</text><text x="122" y="2127" class="d" textLength="381" lengthAdjust="spacingAndGlyphs"><tspan class="b">Gamberetti</tspan> mit Spinat, Krabben<tspan class="s" dy="-7">2,3,8,B</tspan><tspan dy="7">, Knoblauch und Tabasco</tspan></text><line x1="508" x2="701" y1="2127.5" y2="2127.5"/><text x="755" y="2127" class="p">11,00</text><text x="809" y="2127" class="p">18,00</text>

<text x="110" y="2150" class="n">63a*</text><text x="122" y="2150" class="d" textLength="479" lengthAdjust="spacingAndGlyphs"><tspan class="b">Gamberetti 2</tspan> mit Spinat, Krabben<tspan class="s" dy="-7">2,3,8,B</tspan><tspan dy="7">, Schafskäse</tspan><tspan class="s" dy="-7">G</tspan><tspan dy="7">, Peperoni  und Knoblauch</tspan></text><line x1="612" x2="701" y1="2150.5" y2="2150.5"/><text x="755" y="2150" class="p">12,00</text><text x="809" y="2150" class="p">20,00</text>

<!-- Footer -->
<text x="120" y="2197" class="f" textLength="615" lengthAdjust="spacingAndGlyphs">Alle pizzen kann man auch mit Käserand bestellen. Aufschlag für mittlere größe 3,00 €, für Jumbo 5,00 €</text>

<text x="85" y="2247" class="f" textLength="609" lengthAdjust="spacingAndGlyphs"><tspan class="b">Belegen Sie Ihre Pizza und Salate nach Wahl: 0,75 € :</tspan>  <tspan class="b">fr.</tspan> Champignons, Ei, <tspan class="b">fr.</tspan> Paprika, Blattspinat,</text>
<text x="85" y="2268" class="f" textLength="681" lengthAdjust="spacingAndGlyphs">Zwiebeln, Broccoli, Ananas, Oliven, Mais, Erbsen, Peperoni, Kapern, Spargel, fr. Tomaten, Jalapenos (Jumbo Beilagen</text>
<text x="85" y="2288" class="f" textLength="717" lengthAdjust="spacingAndGlyphs">doppelter Preis)  <tspan class="b">Zutaten für Feinschmecker: 1,50 €:</tspan> Salami, Schinken, Bolognese, Mozzarella, Gorgonzola, Extra Käse,</text>
<text x="85" y="2309" class="f" textLength="536" lengthAdjust="spacingAndGlyphs">Thunfisch, Artischocke, Tzatziki  <tspan class="b">Zutaten:     2,50 €:</tspan> Hähnchenfleisch, Dönerfleisch, Scampi</text>
</svg>
</body></html>
